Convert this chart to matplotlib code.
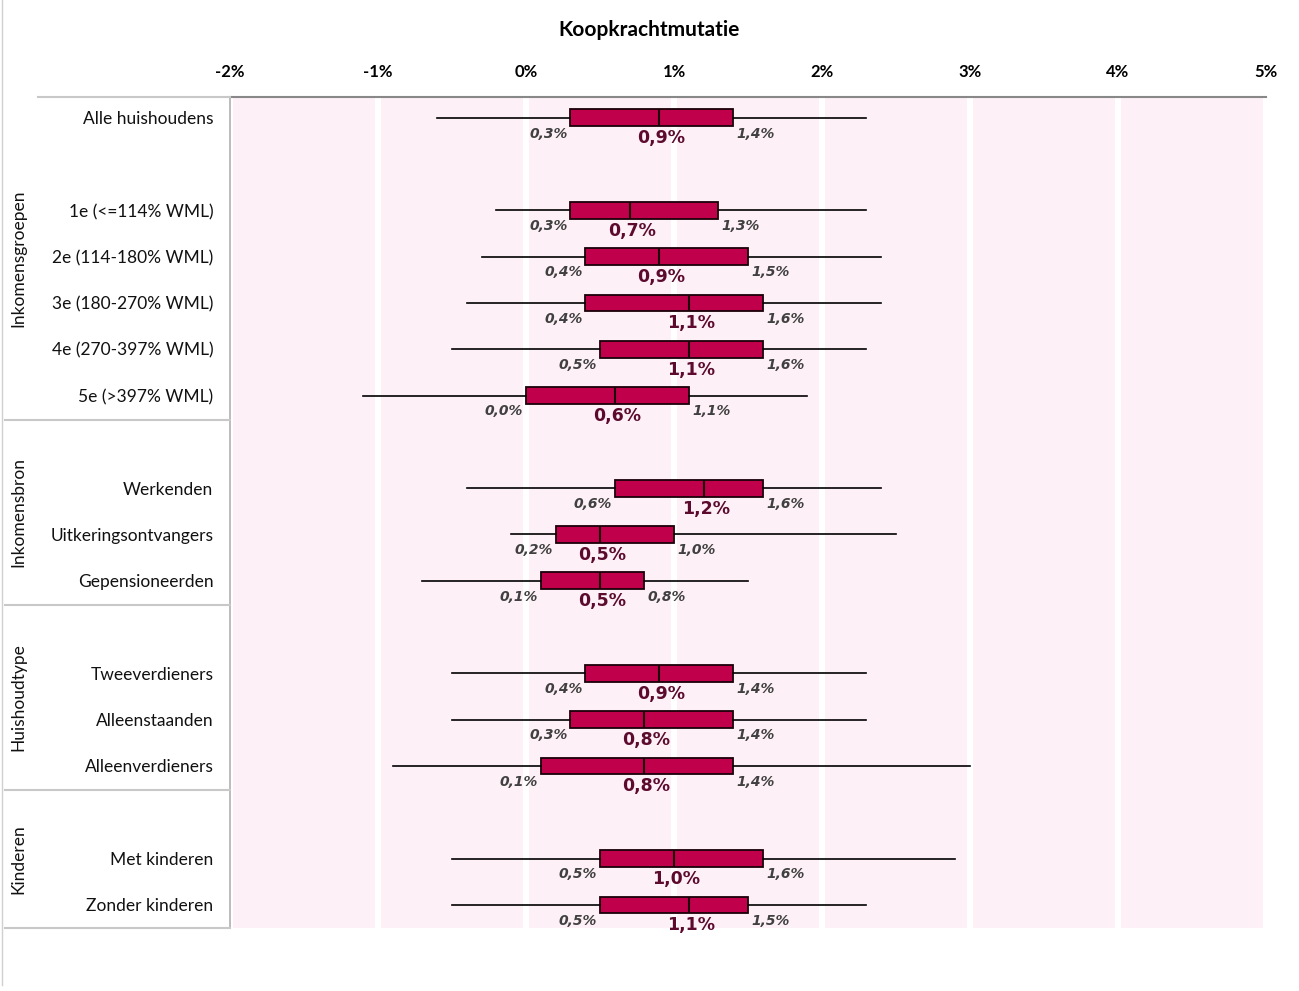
import matplotlib
matplotlib.use("Agg")
import matplotlib.pyplot as plt
from matplotlib.lines import Line2D
from matplotlib.transforms import blended_transform_factory

# data (percent)
categories = ["Alle huishoudens",
              "1e (<=114% WML)", "2e (114-180% WML)", "3e (180-270% WML)",
              "4e (270-397% WML)", "5e (>397% WML)",
              "Werkenden", "Uitkeringsontvangers", "Gepensioneerden",
              "Tweeverdieners", "Alleenstaanden", "Alleenverdieners",
              "Met kinderen", "Zonder kinderen"]
rows = [0, 2, 3, 4, 5, 6, 8, 9, 10, 12, 13, 14, 16, 17]
whis_lo = [-0.6, -0.2, -0.3, -0.4, -0.5, -1.1, -0.4, -0.1, -0.7, -0.5, -0.5, -0.9, -0.5, -0.5]
q1 = [0.3, 0.3, 0.4, 0.4, 0.5, 0.0, 0.6, 0.2, 0.1, 0.4, 0.3, 0.1, 0.5, 0.5]
med = [0.9, 0.7, 0.9, 1.1, 1.1, 0.6, 1.2, 0.5, 0.5, 0.9, 0.8, 0.8, 1.0, 1.1]
q3 = [1.4, 1.3, 1.5, 1.6, 1.6, 1.1, 1.6, 1.0, 0.8, 1.4, 1.4, 1.4, 1.6, 1.5]
whis_hi = [2.3, 2.3, 2.4, 2.4, 2.3, 1.9, 2.4, 2.5, 1.5, 2.3, 2.3, 3.0, 2.9, 2.3]

groups = ["Inkomensgroepen", "Inkomensbron", "Huishoudtype", "Kinderen"]
group_first = [2, 8, 12, 16]
group_last = [6, 10, 14, 17]

xticks = [-2, -1, 0, 1, 2, 3, 4, 5]

BOX = "#c0004a"
PINK = "#fdf0f6"
MED_TXT = "#5c0b2e"
Q_TXT = "#404040"
LABEL_FONT = ["Lato", "DejaVu Sans"]
NUM_FONT = ["DejaVu Sans"]


def pct(v):
    return f"{v:.1f}%".replace(".", ",")


fig = plt.figure(figsize=(12.99, 9.91), dpi=100)
ax = fig.add_axes([230 / 1299, 1 - 928 / 991, (1266 - 230) / 1299, (928 - 97) / 991])
ax.set_xlim(-2, 5)
ax.set_ylim(17.5, -0.45)

# pink bands with white gaps at each gridline
for a, b in zip(xticks[:-1], xticks[1:]):
    ax.axvspan(a + 0.017, b - 0.017, color=PINK, lw=0, zorder=0)

stats = [dict(whislo=lo, q1=a, med=m, q3=b, whishi=hi, fliers=[])
         for lo, a, m, b, hi in zip(whis_lo, q1, med, q3, whis_hi)]
ax.bxp(stats, positions=rows, widths=0.36, orientation="horizontal",
       showcaps=False, showfliers=False, patch_artist=True,
       boxprops=dict(facecolor=BOX, edgecolor="#1a0008", linewidth=1.3),
       medianprops=dict(color="#1a0008", linewidth=1.5),
       whiskerprops=dict(color="black", linewidth=1.2),
       manage_ticks=False, zorder=3)

for r, a, m, b in zip(rows, q1, med, q3):
    ax.annotate(pct(a), (a, r + 0.34), xytext=(-2, 0), textcoords="offset points",
                ha="right", va="center", fontsize=10, fontweight="bold",
                style="italic", color=Q_TXT, family=NUM_FONT)
    ax.annotate(pct(b), (b, r + 0.34), xytext=(2.5, 0), textcoords="offset points",
                ha="left", va="center", fontsize=10, fontweight="bold",
                style="italic", color=Q_TXT, family=NUM_FONT)
    ax.annotate(pct(m), (m, r + 0.44), xytext=(1.5, 0), textcoords="offset points",
                ha="center", va="center", fontsize=12.5, fontweight="bold",
                color=MED_TXT, family=NUM_FONT)

# axes styling
ax.xaxis.tick_top()
ax.set_xticks(xticks)
ax.set_xticklabels([f"{t}%" for t in xticks], fontweight="bold", fontsize=12,
                   family=LABEL_FONT)
ax.tick_params(axis="x", length=0, pad=12.5)
ax.set_yticks(rows)
ax.set_yticklabels(categories, fontsize=12.5, family=LABEL_FONT, color="#111111")
ax.tick_params(axis="y", length=0, pad=12)
for s in ["right", "bottom"]:
    ax.spines[s].set_visible(False)
ax.spines["top"].set_color("#888888")
ax.spines["top"].set_linewidth(1.5)
ax.spines["left"].set_color("#b0b0b0")
ax.spines["left"].set_linewidth(1.2)

# separators and group labels in the left margin
tr = blended_transform_factory(fig.transFigure, ax.transData)
fig.add_artist(Line2D([38 / 1299, 230 / 1299], [-0.45, -0.45], transform=tr,
                      color="#c8c8c8", lw=1.5))
tops = [-0.45] + [g + 0.52 for g in group_last[:-1]]
bottoms = [g + 0.52 for g in group_last[:-1]] + [17.5]
for name, t, b in zip(groups, tops, bottoms):
    fig.add_artist(Line2D([5 / 1299, 230 / 1299], [b, b], transform=tr,
                          color="#c8c8c8", lw=1.5))
    fig.text(18 / 1299, (t + b) / 2, name, transform=tr, rotation=90,
             ha="center", va="center", fontsize=12.5, family=LABEL_FONT,
             color="#111111")

fig.add_artist(Line2D([2 / 1299, 2 / 1299], [1, 1 - 985 / 991],
                      transform=fig.transFigure, color="#d0d0d0", lw=1))

fig.text(0.5, 1 - 30 / 991, "Koopkrachtmutatie", ha="center", va="center",
         fontsize=15, fontweight="bold", family=LABEL_FONT)

fig.savefig("out.png", dpi=100)
